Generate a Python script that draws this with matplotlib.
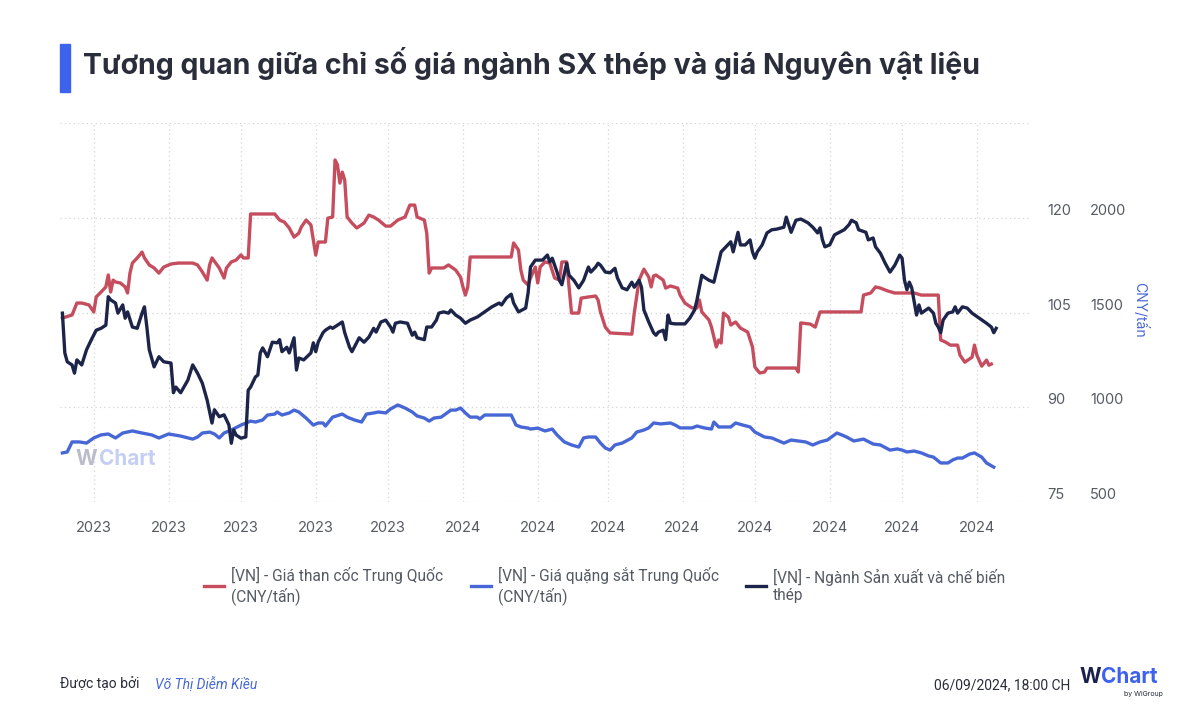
import matplotlib
matplotlib.use("Agg")
import matplotlib.pyplot as plt
import matplotlib.dates as mdates
import matplotlib.transforms as mtransforms
from matplotlib.lines import Line2D
import pandas as pd

plt.rcParams['font.family'] = ['Inter', 'DejaVu Sans']

TITLE = "Tương quan giữa chỉ số giá ngành SX thép và giá Nguyên vật liệu"
START = "2023-07-18"

# Giá than cốc Trung Quốc (CNY/tấn): days since START, value
coal_days = [1, 5, 7, 9, 12, 14, 15, 17, 19, 20, 21, 22, 23, 25, 27, 28, 29, 30, 32, 34, 35, 37, 39, 41, 43, 46, 49, 55,
             57, 59, 61, 62, 63, 66, 68, 69, 71, 73, 75, 76, 78, 79, 89, 91, 93, 95, 97, 99, 100, 102, 104, 105, 106, 107,
             110, 111, 113, 114, 115, 116, 117, 118, 119, 121, 123, 126, 128, 130, 132, 135, 137, 140, 143, 145, 147,
             148, 151, 152, 153, 154, 157, 159, 161, 164, 166, 167, 168, 169, 170, 187, 188, 190, 191, 192, 194, 195,
             197, 198, 199, 201, 203, 205, 207, 208, 210, 211, 212, 215, 216, 219, 222, 223, 224, 226, 228, 237, 238,
             240, 242, 244, 245, 246, 247, 250, 251, 253, 256, 257, 259, 262, 264, 265, 266, 269, 270, 272, 273, 274,
             275, 277, 278, 280, 282, 285, 287, 288, 290, 292, 293, 305, 306, 307, 311, 313, 315, 318, 332, 333, 336,
             338, 340, 343, 346, 354, 357, 364, 365, 367, 369, 372, 373, 375, 378, 379, 380, 382, 384, 385, 386]
coal_vals = [1471, 1487, 1550, 1550, 1540, 1503, 1582, 1608, 1635, 1698, 1608, 1671, 1661, 1656, 1635, 1603, 1708, 1761,
             1788, 1819, 1788, 1751, 1735, 1708, 1740, 1756, 1761, 1761, 1751, 1714, 1671, 1751, 1788, 1735, 1682, 1735,
             1767, 1777, 1804, 1788, 1788, 2020, 2020, 1988, 1977, 1946, 1898, 1919, 1951, 1988, 1962, 1882, 1803, 1872,
             1872, 1998, 2004, 2305, 2279, 2183, 2241, 2199, 2004, 1972, 1946, 1972, 2014, 2004, 1988, 1956, 1956, 1988,
             2004, 2067, 2067, 2004, 1988, 1919, 1708, 1735, 1735, 1735, 1751, 1724, 1687, 1635, 1592, 1635, 1793, 1793,
             1867, 1830, 1724, 1671, 1645, 1682, 1740, 1656, 1740, 1767, 1761, 1682, 1671, 1767, 1767, 1635, 1497, 1497,
             1576, 1582, 1587, 1566, 1503, 1423, 1392, 1386, 1497, 1671, 1729, 1687, 1635, 1693, 1698, 1671, 1629, 1640,
             1629, 1592, 1550, 1524, 1524, 1566, 1503, 1460, 1423, 1318, 1355, 1339, 1497, 1476, 1434, 1450, 1418, 1397,
             1318, 1212, 1181, 1186, 1207, 1207, 1186, 1445, 1439, 1423, 1503, 1503, 1503, 1592, 1603, 1635, 1629, 1614,
             1603, 1603, 1592, 1592, 1355, 1344, 1328, 1328, 1275, 1238, 1264, 1328, 1275, 1217, 1249, 1222, 1228]

# Giá quặng sắt Trung Quốc (CNY/tấn)
ore_days = [1, 3, 5, 8, 11, 14, 17, 20, 23, 26, 30, 34, 38, 41, 45, 50, 55, 57, 59, 62, 64, 66, 68, 71, 75, 79, 81, 84,
            86, 89, 90, 92, 95, 97, 99, 102, 105, 107, 109, 110, 113, 117, 119, 122, 125, 127, 130, 132, 135, 137, 140,
            143, 146, 148, 151, 153, 155, 158, 162, 164, 166, 168, 170, 173, 174, 176, 179, 187, 189, 191, 194, 195,
            198, 201, 204, 206, 209, 212, 215, 217, 219, 222, 224, 226, 228, 230, 233, 237, 239, 242, 244, 246, 249,
            253, 255, 257, 262, 264, 267, 270, 271, 273, 275, 278, 280, 283, 286, 288, 292, 295, 297, 300, 303, 306,
            309, 312, 315, 318, 322, 324, 326, 329, 333, 337, 340, 344, 347, 349, 351, 354, 357, 360, 362, 365, 368,
            370, 372, 374, 377, 379, 382, 384, 387]
ore_vals = [759, 764, 817, 817, 811, 838, 854, 859, 838, 864, 875, 864, 854, 838, 859, 848, 832, 843, 864, 869, 859, 838,
            864, 880, 906, 927, 922, 933, 959, 964, 975, 959, 970, 985, 975, 943, 906, 917, 917, 901, 948, 964, 948, 933,
            922, 964, 970, 975, 970, 991, 1012, 996, 975, 954, 943, 927, 943, 948, 985, 985, 996, 970, 948, 948, 938,
            959, 959, 959, 906, 896, 890, 885, 890, 875, 885, 854, 817, 801, 790, 838, 843, 843, 811, 785, 774, 801, 811,
            838, 869, 880, 891, 917, 912, 917, 906, 891, 891, 901, 891, 885, 922, 896, 896, 896, 917, 906, 896, 869, 843,
            838, 827, 811, 827, 822, 817, 801, 817, 827, 864, 854, 843, 822, 832, 806, 801, 774, 780, 774, 764, 769, 759,
            743, 737, 706, 706, 722, 732, 732, 753, 759, 737, 706, 684]

# Ngành Sản xuất và chế biến thép (chỉ số)
steel_days = [1, 2, 3, 5, 6, 7, 9, 11, 13, 15, 17, 19, 20, 21, 23, 24, 26, 27, 28, 30, 32, 34, 35, 36, 37, 39, 41, 43,
              46, 47, 48, 50, 53, 55, 57, 59, 61, 63, 64, 66, 68, 70, 71, 72, 73, 75, 77, 78, 79, 81, 82, 83, 84, 86,
              88, 90, 91, 92, 94, 95, 97, 98, 99, 101, 104, 105, 106, 107, 109, 110, 112, 113, 115, 117, 118, 120, 121,
              124, 126, 128, 130, 131, 133, 135, 137, 138, 139, 141, 144, 146, 147, 148, 151, 152, 154, 156, 157, 159,
              161, 162, 164, 166, 168, 170, 173, 176, 179, 182, 183, 185, 187, 188, 190, 193, 194, 195, 197, 200, 202,
              203, 204, 206, 207, 208, 210, 211, 213, 215, 217, 219, 220, 222, 223, 224, 226, 228, 230, 231, 233, 235,
              237, 238, 240, 241, 242, 244, 246, 247, 248, 250, 251, 252, 253, 255, 259, 261, 263, 264, 266, 267, 269,
              271, 273, 274, 276, 278, 279, 281, 282, 284, 286, 287, 288, 289, 291, 293, 295, 297, 300, 301, 303, 305,
              307, 308, 310, 312, 314, 315, 316, 317, 319, 321, 323, 325, 327, 328, 330, 331, 334, 335, 337, 338, 340,
              342, 344, 346, 348, 349, 350, 351, 352, 353, 355, 356, 357, 360, 362, 363, 364, 365, 366, 368, 370, 371,
              372, 374, 376, 378, 381, 384, 386, 387, 388]
steel_vals = [104.9, 98.6, 97.2, 96.7, 95.4, 97.5, 96.7, 99.1, 100.7, 102.2, 102.5, 103.0, 107.5, 107.0, 106.5, 104.9,
              106.2, 104.1, 105.1, 102.7, 102.5, 104.9, 105.9, 102.7, 99.1, 96.4, 98.0, 97.2, 97.0, 92.3, 93.2, 92.3,
              94.3, 96.7, 95.4, 93.8, 91.1, 87.5, 89.6, 88.5, 88.8, 87.2, 84.3, 86.4, 85.6, 85.1, 85.3, 92.7, 93.2, 94.8,
              95.1, 98.6, 99.4, 98.0, 100.3, 100.2, 100.7, 98.8, 99.5, 98.6, 101.0, 95.9, 97.8, 97.5, 98.6, 100.2, 98.8,
              100.3, 101.8, 102.2, 102.7, 102.5, 103.0, 103.5, 101.8, 99.5, 98.8, 101.0, 100.3, 101.1, 102.5, 101.9,
              103.5, 103.8, 102.7, 101.9, 103.3, 103.5, 103.3, 101.4, 101.9, 101.0, 100.7, 102.7, 102.7, 103.8, 104.9,
              105.1, 104.9, 105.4, 104.6, 104.1, 103.3, 103.8, 104.3, 105.1, 105.9, 106.5, 106.2, 107.3, 107.9, 106.5,
              105.1, 105.7, 108.1, 112.2, 113.3, 113.3, 114.1, 113.0, 113.6, 111.4, 110.1, 109.4, 112.8, 110.9, 110.1,
              108.9, 110.1, 112.2, 111.4, 112.2, 112.8, 112.5, 111.4, 111.3, 112.0, 110.5, 108.9, 108.6, 109.8, 109.0,
              110.1, 109.0, 105.4, 103.5, 101.8, 101.4, 101.9, 102.2, 100.7, 104.6, 103.3, 103.2, 103.2, 104.1, 105.4,
              107.0, 110.9, 110.6, 110.1, 109.8, 113.0, 114.6, 115.4, 116.2, 114.6, 117.7, 115.7, 115.7, 116.5, 114.6,
              113.6, 114.6, 115.7, 117.6, 118.1, 118.2, 118.5, 120.1, 117.7, 119.6, 119.8, 119.6, 119.2, 118.5, 117.6,
              118.4, 116.5, 115.4, 115.7, 117.3, 117.7, 118.1, 118.9, 119.6, 119.2, 118.1, 117.7, 116.5, 116.8, 115.4,
              114.4, 112.8, 111.4, 112.5, 114.1, 113.6, 110.1, 108.6, 109.8, 108.9, 104.6, 106.2, 104.9, 105.7, 104.9,
              103.3, 102.7, 101.8, 103.8, 104.9, 105.1, 105.9, 104.9, 105.9, 105.7, 104.9, 104.1, 103.3, 102.7, 101.8,
              102.5]

LEGEND_LABELS = ["[VN] - Giá than cốc Trung Quốc\n(CNY/tấn)",
                 "[VN] - Giá quặng sắt Trung Quốc\n(CNY/tấn)",
                 "[VN] - Ngành Sản xuất và chế biến\nthép"]
PRICE_TICKS = [500, 1000, 1500, 2000, 2500]
INDEX_TICKS = [75, 90, 105, 120, 135]
PRICE_LABELS = ["500", "1000", "1500", "2000"]
INDEX_LABELS = ["75", "90", "105", "120"]
X_TICKS = pd.date_range("2023-08-01", "2024-08-01", freq="MS")
X_LIMITS = ["2023-07-18", "2024-08-23"]

RED = "#c64d5e"
BLUE = "#4767d6"
NAVY = "#1c2549"
GRID = "#d4d4d4"
TXT = "#555a63"

start = pd.Timestamp(START)
coal_dates = start + pd.to_timedelta(coal_days, unit="D")
ore_dates = start + pd.to_timedelta(ore_days, unit="D")
steel_dates = start + pd.to_timedelta(steel_days, unit="D")

fig = plt.figure(figsize=(12, 7.22), dpi=100)
ax = fig.add_axes([0.05, 0.3047, 0.8083, 0.5249])
ax2 = ax.twinx()

ax.set_ylim(PRICE_TICKS[0], PRICE_TICKS[-1])
ax2.set_ylim(INDEX_TICKS[0], INDEX_TICKS[-1])
ax.set_xlim(pd.Timestamp(X_LIMITS[0]), pd.Timestamp(X_LIMITS[1]))

ax.plot(coal_dates, coal_vals, color=RED, lw=2.4, solid_joinstyle="round", zorder=3)
ax.plot(ore_dates, ore_vals, color=BLUE, lw=2.4, solid_joinstyle="round", zorder=3)
ax2.plot(steel_dates, steel_vals, color=NAVY, lw=2.4, solid_joinstyle="round", zorder=3)

for a in (ax, ax2):
    for s in a.spines.values():
        s.set_visible(False)
    a.tick_params(axis="y", length=0, labelleft=False, labelright=False)

ax.set_yticks(PRICE_TICKS)
ax2.set_yticks(INDEX_TICKS)
ax.set_xticks(X_TICKS)
ax.xaxis.set_major_formatter(mdates.DateFormatter("%Y"))
ax.tick_params(axis="x", length=0, pad=14, labelsize=10.5, labelcolor=TXT)
ax.grid(True, axis="both", color=GRID, lw=0.9, linestyle=(0, (1, 2.5)))
ax.set_axisbelow(True)

# right-side tick labels (baseline on gridline)
tr = mtransforms.blended_transform_factory(ax.transAxes, ax.transData)
for v, lab in zip(PRICE_TICKS, PRICE_LABELS):
    ax.text(1.0 + 60 / 970, v, lab, transform=tr, ha="left", va="bottom", fontsize=10.5, color=TXT)
tr2 = mtransforms.blended_transform_factory(ax2.transAxes, ax2.transData)
for v, lab in zip(INDEX_TICKS, INDEX_LABELS):
    ax2.text(1.0 + 17 / 970, v, lab, transform=tr2, ha="left", va="bottom", fontsize=10.5, color=TXT)

fig.text(1140 / 1200, 1 - 310 / 722, "CNY/tấn", rotation=-90, ha="center", va="center",
         fontsize=10, color=BLUE)

# watermark
fig.text(75 / 1200, 1 - 459 / 722, "W", fontsize=15, fontweight="bold", color="#b9bdc9", ha="left", va="center")
fig.text(99 / 1200, 1 - 459 / 722, "Chart", fontsize=15, fontweight="bold", color="#c4cff3", ha="left", va="center")

# title
fig.patches.append(plt.Rectangle((60 / 1200, 1 - 92 / 722), 10 / 1200, 48 / 722, transform=fig.transFigure,
                                 color="#3d63ee", zorder=5))
fig.text(83 / 1200, 1 - 63 / 722, TITLE, fontsize=20.5, fontweight="bold", color="#2a2d3a", ha="left", va="center")

# legend
handles = [Line2D([], [], color=c, lw=2.4) for c in (RED, BLUE, NAVY)]
leg = fig.legend(handles, LEGEND_LABELS, loc="upper left", bbox_to_anchor=(204 / 1200, 1 - 567 / 722), ncol=3,
                 frameon=False, borderpad=0, borderaxespad=0, prop={"family": "Roboto", "size": 11.2},
                 handlelength=1.3, handletextpad=0.45, columnspacing=1.75, labelspacing=0.3,
                 labelcolor=TXT)

# footer
fig.text(60 / 1200, 1 - 685 / 722, "Được tạo bởi", fontsize=10, color="#2a2d3a", ha="left", va="center",
         family="Roboto")
fig.text(155 / 1200, 1 - 685 / 722, "Võ Thị Diễm Kiều", fontsize=10, color=BLUE, style="italic",
         ha="left", va="center", family="Roboto")
fig.text(1070 / 1200, 1 - 685 / 722, "06/09/2024, 18:00 CH", fontsize=10, color="#2a2d3a", ha="right",
         va="center", family="Roboto")
fig.text(1080 / 1200, 1 - 677 / 722, "W", fontsize=15, fontweight="bold", color="#1a1f4e", ha="left", va="center")
fig.text(1101 / 1200, 1 - 677 / 722, "Chart", fontsize=15, fontweight="bold", color="#3d63ee", ha="left", va="center")
fig.text(1163 / 1200, 1 - 694 / 722, "by WiGroup", fontsize=5, color="#2a2d3a", ha="right", va="center")

fig.savefig("out.png", dpi=100)
